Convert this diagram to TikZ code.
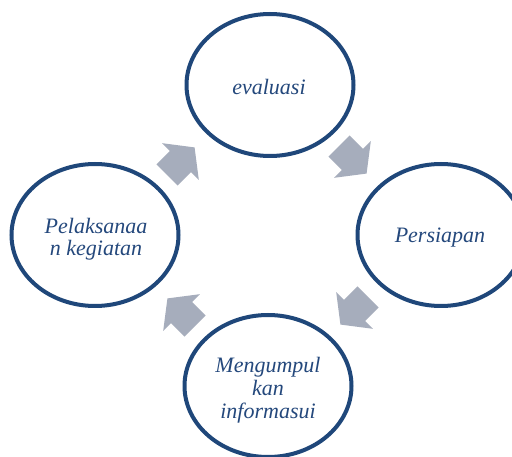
\documentclass[tikz,border=0pt]{standalone}
\usepackage{fontspec}
\setmainfont{Liberation Serif}
\usetikzlibrary{shapes.geometric}
\definecolor{ringblue}{HTML}{1F477A}
\definecolor{textblue}{HTML}{24487C}
\definecolor{arrowgray}{HTML}{A6ADBC}
\tikzset{
  ring/.style={ellipse, draw=ringblue, line width=4pt, fill=white,
    minimum width=167pt, minimum height=142pt, inner sep=0pt},
  label/.style={text=textblue, align=center, inner sep=0pt,
    font=\fontsize{22}{23}\selectfont\itshape},
  blockarrow/.pic={\fill[arrowgray] (0,-15) -- (19,-15) -- (19,-26) -- (39,0) -- (19,26) -- (19,15) -- (0,15) -- cycle;}
}
\begin{document}
\begin{tikzpicture}[x=1pt,y=-1pt]
\useasboundingbox (0,0) rectangle (512,457);
\clip (0,0) rectangle (512,457);
\fill[white] (0,0) rectangle (512,457);
\node[ring] (top) at (270,85) {};
\node[ring] (right) at (441,235) {};
\node[ring] (bottom) at (268,386) {};
\node[ring] (left) at (95,235) {};
\node[label] (topt) at (269,87) {evaluasi};
\node[label] (rightt) at (440,238) {Persiapan};
\node[label] (bottomt) at (268,390) {Mengumpul\\kan\\informasui};
\node[label, font=\fontsize{22}{21.5}\selectfont\itshape] (leftt) at (96,239) {Pelaksanaa\\n kegiatan};
\pic[rotate=-45] at (339,146) {blockarrow};
\pic[rotate=-135] at (368,297) {blockarrow};
\pic[rotate=135] at (195,326) {blockarrow};
\pic[rotate=45] at (167,175) {blockarrow};
\end{tikzpicture}
\end{document}
